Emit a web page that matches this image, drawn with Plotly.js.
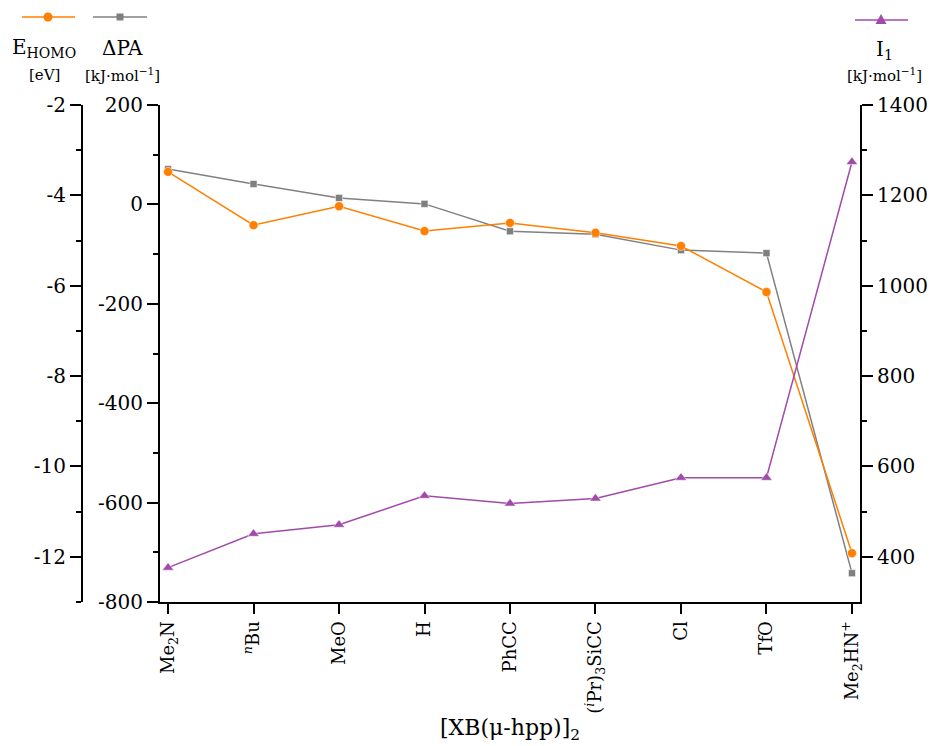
<!DOCTYPE html>
<html>
<head>
<meta charset="utf-8">
<script src="https://cdn.plot.ly/plotly-3.0.1.min.js"></script>
<style>html,body{margin:0;padding:0;background:#fff;}#chart{width:932px;height:746px;}</style>
</head>
<body>
<div id="chart"></div>
<script>
// ---- data ----
var categories = ["Me2N", "nBu", "MeO", "H", "PhCC", "iPr3SiCC", "Cl", "TfO", "Me2HN+"];
var categoryLabels = ["Me<sub>2</sub>N", "<sup><i>n</i></sup>Bu", "MeO", "H", "PhCC",
  "(<sup><i>i</i></sup>Pr)<sub>3</sub>SiCC", "Cl", "TfO", "Me<sub>2</sub>HN<sup>+</sup>"];
var eHOMO = [-3.48, -4.66, -4.24, -4.79, -4.61, -4.83, -5.12, -6.14, -11.92];       // eV
var deltaPA = [71, 41, 13, 1, -54, -60, -92, -98, -742];                             // kJ/mol
var ionI1 = [376, 451, 471, 535, 518, 529, 575, 575, 1274];                          // kJ/mol

var eTickVals = [-2, -4, -6, -8, -10, -12];
var eTickText = ["-2", "-4", "-6", "-8", "-10", "-12"];
var paTickVals = [200, 0, -200, -400, -600, -800];
var paTickText = ["200", "0", "-200", "-400", "-600", "-800"];
var iTickVals = [400, 600, 800, 1000, 1200, 1400];
var iTickText = ["400", "600", "800", "1000", "1200", "1400"];

// ---- style ----
var cOrange = "#ff7f00", cGray = "#808080", cPurple = "#a04aaa";
var FONT = "DejaVu Serif, Liberation Serif, serif";
var W = 932, H = 746, ML = 82, MR = 72, MT = 105, MB = 144;
var PW = W - ML - MR, PH = H - MT - MB;
function px(x) { return (x - ML) / PW; }
function py(y) { return (H - MB - y) / PH; }

var traces = [
  {x: categories, y: deltaPA, yaxis: "y", type: "scatter", mode: "lines+markers",
   line: {color: cGray, width: 1.5}, marker: {symbol: "square", size: 7, color: cGray, line: {color: "#fff", width: 0.5}},
   showlegend: false, hoverinfo: "skip"},
  {x: categories, y: eHOMO, yaxis: "y2", type: "scatter", mode: "lines+markers",
   line: {color: cOrange, width: 1.5}, marker: {symbol: "circle", size: 9, color: cOrange, line: {color: "#fff", width: 0.5}},
   showlegend: false, hoverinfo: "skip"},
  {x: categories, y: ionI1, yaxis: "y3", type: "scatter", mode: "lines+markers",
   line: {color: cPurple, width: 1.5}, marker: {symbol: "triangle-up", size: 10, color: cPurple, line: {color: "#fff", width: 0.5}},
   showlegend: false, hoverinfo: "skip"}
];

var tickFont = {family: FONT, size: 20, color: "#000"};
var commonY = {showgrid: false, zeroline: false, showline: true, linecolor: "#000", linewidth: 2,
  ticks: "outside", ticklen: 11, tickwidth: 2, tickcolor: "#000", tickfont: tickFont,
  fixedrange: true};

var layout = {
  width: W, height: H,
  margin: {l: ML, r: MR, t: MT, b: MB, pad: 0},
  paper_bgcolor: "#fff", plot_bgcolor: "#fff",
  font: {family: FONT, color: "#000"},
  showlegend: false,
  xaxis: {
    domain: [px(160), 1], type: "category", range: [-0.094, 8.094],
    tickvals: categories, ticktext: categoryLabels, tickangle: -90,
    showgrid: false, zeroline: false, showline: true, linecolor: "#000", linewidth: 2,
    ticks: "outside", ticklen: 10, tickwidth: 2, tickcolor: "#000",
    tickfont: {family: FONT, size: 18, color: "#000"}, anchor: "y"
  },
  yaxis: Object.assign({}, commonY, {
    range: [-800, 200], tickvals: paTickVals, ticktext: paTickText, anchor: "x", side: "left",
    minor: {tickvals: [100, -100, -300, -500, -700], ticklen: 5, tickwidth: 2, tickcolor: "#000", ticks: "outside"}
  }),
  yaxis2: Object.assign({}, commonY, {
    range: [-13, -2], tickvals: eTickVals, ticktext: eTickText, overlaying: "y",
    anchor: "free", position: 0, side: "left",
    minor: {tickvals: [-3, -5, -7, -9, -11, -13], ticklen: 5, tickwidth: 2, tickcolor: "#000", ticks: "outside"}
  }),
  yaxis3: Object.assign({}, commonY, {
    range: [300, 1400], tickvals: iTickVals, ticktext: iTickText, overlaying: "y",
    anchor: "x", side: "right",
    minor: {tickvals: [500, 700, 900, 1100, 1300], ticklen: 5, tickwidth: 2, tickcolor: "#000", ticks: "outside"}
  }),
  shapes: [
    // legend samples
    {type: "line", xref: "paper", yref: "paper", x0: px(22), x1: px(75), y0: py(17), y1: py(17), line: {color: cOrange, width: 1.5}},
    {type: "circle", xref: "paper", yref: "paper", xsizemode: "pixel", ysizemode: "pixel",
     xanchor: px(48), yanchor: py(17), x0: -4.5, x1: 4.5, y0: -4.5, y1: 4.5, fillcolor: cOrange, line: {width: 0}},
    {type: "line", xref: "paper", yref: "paper", x0: px(93), x1: px(147), y0: py(17), y1: py(17), line: {color: cGray, width: 1.5}},
    {type: "rect", xref: "paper", yref: "paper", xsizemode: "pixel", ysizemode: "pixel",
     xanchor: px(120), yanchor: py(17), x0: -3.5, x1: 3.5, y0: -3.5, y1: 3.5, fillcolor: cGray, line: {width: 0}},
    {type: "line", xref: "paper", yref: "paper", x0: px(855), x1: px(908), y0: py(20), y1: py(20), line: {color: cPurple, width: 1.5}},
    {type: "path", xref: "paper", yref: "paper", xsizemode: "pixel", ysizemode: "pixel",
     xanchor: px(881), yanchor: py(20), path: "M -5.5 -4 L 5.5 -4 L 0 6 Z", fillcolor: cPurple, line: {width: 0}}
  ],
  annotations: [
    {xref: "paper", yref: "paper", x: px(44), y: py(48), text: "E<sub>HOMO</sub>", showarrow: false,
     font: {family: FONT, size: 20, color: "#000"}, xanchor: "center", yanchor: "middle"},
    {xref: "paper", yref: "paper", x: px(44), y: py(75), text: "[eV]", showarrow: false,
     font: {family: FONT, size: 15, color: "#000"}, xanchor: "center", yanchor: "middle"},
    {xref: "paper", yref: "paper", x: px(122), y: py(48), text: "ΔPA", showarrow: false,
     font: {family: FONT, size: 20, color: "#000"}, xanchor: "center", yanchor: "middle"},
    {xref: "paper", yref: "paper", x: px(122), y: py(75), text: "[kJ·mol<sup>−1</sup>]", showarrow: false,
     font: {family: FONT, size: 15, color: "#000"}, xanchor: "center", yanchor: "middle"},
    {xref: "paper", yref: "paper", x: px(884), y: py(50), text: "I<sub>1</sub>", showarrow: false,
     font: {family: FONT, size: 20, color: "#000"}, xanchor: "center", yanchor: "middle"},
    {xref: "paper", yref: "paper", x: px(884), y: py(75), text: "[kJ·mol<sup>−1</sup>]", showarrow: false,
     font: {family: FONT, size: 15, color: "#000"}, xanchor: "center", yanchor: "middle"},
    {xref: "paper", yref: "paper", x: px(510), y: py(729), text: "[XB(μ-hpp)]<sub>2</sub>", showarrow: false,
     font: {family: FONT, size: 22, color: "#000"}, xanchor: "center", yanchor: "middle"}
  ]
};

Plotly.newPlot("chart", traces, layout, {staticPlot: true, displayModeBar: false});
</script>
</body>
</html>
